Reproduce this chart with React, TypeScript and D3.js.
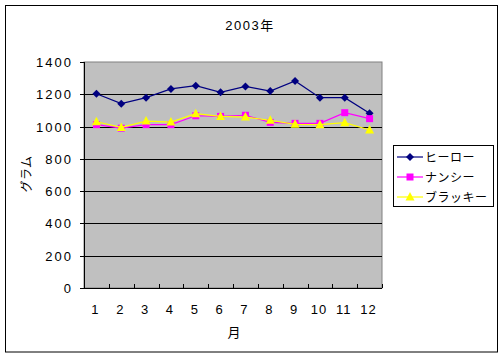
import React from "react";
import * as d3 from "d3";

const months = ["1", "2", "3", "4", "5", "6", "7", "8", "9", "10", "11", "12"];
const hero = [1203, 1142, 1179, 1233, 1253, 1212, 1249, 1220, 1282, 1179, 1179, 1082];
const nancy = [1012, 990, 1012, 1012, 1067, 1063, 1070, 1026, 1020, 1020, 1086, 1049];
const brakky = [1030, 995, 1034, 1028, 1080, 1063, 1059, 1039, 1014, 1012, 1024, 979];
const yTicks = [0, 200, 400, 600, 800, 1000, 1200, 1400];
const seriesNames = ["ヒーロー", "ナンシー", "ブラッキー"];
const title = "2003年";
const xTitle = "月";
const yTitle = "グラム";

const W = 503, H = 358;
const plot = { l: 84, r: 382, t: 62, b: 288 };
const font = "'Liberation Sans', 'Noto Sans CJK JP', sans-serif";

function Marker({ kind, x, y, color }: { kind: string; x: number; y: number; color: string }) {
  if (kind === "diamond") {
    return <path d={`M${x},${y - 4}L${x + 4},${y}L${x},${y + 4}L${x - 4},${y}Z`} fill={color} />;
  }
  if (kind === "square") {
    return <rect x={x - 3.5} y={y - 3.5} width={7} height={7} fill={color} />;
  }
  return <path d={`M${x},${y - 5}L${x + 4.5},${y + 3.5}L${x - 4.5},${y + 3.5}Z`} fill={color} />;
}

export default function App() {
  const x = d3.scaleBand().domain(months).range([plot.l, plot.r]);
  const y = d3.scaleLinear().domain([0, 1400]).range([plot.b, plot.t]);
  const cx = (m: string) => (x(m) as number) + x.bandwidth() / 2;
  const line = d3.line<number>().x((_, i) => cx(months[i])).y((v) => y(v));
  const series = [
    { name: seriesNames[0], data: hero, color: "#000080", kind: "diamond" },
    { name: seriesNames[1], data: nancy, color: "#FF00FF", kind: "square" },
    { name: seriesNames[2], data: brakky, color: "#FFFF00", kind: "triangle" },
  ];
  const boundaries = months.map((m) => x(m) as number).concat([plot.r]);
  return (
    <svg width={W} height={H} style={{ position: "absolute", left: 0, top: 0 }} fontFamily={font}>
      <rect x={0} y={0} width={W} height={H} fill="#fff" />
      <rect x={5.5} y={5.5} width={492} height={346.5} fill="#fff" stroke="#000" strokeWidth={1} />
      <text x={250} y={30} textAnchor="middle" fontSize={13} letterSpacing={1.5}>{title}</text>
      <rect x={plot.l} y={plot.t} width={plot.r - plot.l} height={plot.b - plot.t} fill="#C0C0C0" stroke="#808080" />
      {yTicks.slice(1, -1).map((t) => (
        <line key={t} x1={plot.l} x2={plot.r} y1={Math.round(y(t)) + 0.5} y2={Math.round(y(t)) + 0.5} stroke="#000" />
      ))}
      <line x1={plot.l + 0.5} x2={plot.l + 0.5} y1={plot.t} y2={plot.b} stroke="#000" />
      <line x1={plot.l} x2={plot.r} y1={plot.b + 0.5} y2={plot.b + 0.5} stroke="#000" />
      {yTicks.map((t) => (
        <line key={"yt" + t} x1={plot.l - 4} x2={plot.l} y1={Math.round(y(t)) + 0.5} y2={Math.round(y(t)) + 0.5} stroke="#000" />
      ))}
      {boundaries.map((b, i) => (
        <line key={"xt" + i} x1={Math.round(b) + 0.5} x2={Math.round(b) + 0.5} y1={plot.b} y2={plot.b - 4} stroke="#000" />
      ))}
      {yTicks.map((t) => (
        <text key={"yl" + t} x={73} y={y(t) + 5} textAnchor="end" fontSize={13} letterSpacing={2}>{t}</text>
      ))}
      {months.map((m) => (
        <text key={"xl" + m} x={cx(m) - 1} y={314} textAnchor="middle" fontSize={13} letterSpacing={1}>{m}</text>
      ))}
      <text x={234} y={337} textAnchor="middle" fontSize={13}>{xTitle}</text>
      <text transform={`translate(31,174) rotate(-90)`} textAnchor="middle" fontSize={12} letterSpacing={0.5}>{yTitle}</text>
      {series.map((s) => (
        <g key={s.name}>
          <path d={line(s.data) as string} fill="none" stroke={s.color} strokeWidth={1.2} />
          {s.data.map((v, i) => (
            <Marker key={i} kind={s.kind} x={cx(months[i])} y={y(v)} color={s.color} />
          ))}
        </g>
      ))}
      <rect x={393.5} y={145.5} width={100} height={61} fill="#fff" stroke="#000" />
      {series.map((s, i) => {
        const ly = 157 + i * 20;
        return (
          <g key={"lg" + s.name}>
            <line x1={397} x2={423} y1={ly} y2={ly} stroke={s.color} strokeWidth={1.2} />
            <Marker kind={s.kind} x={410} y={ly} color={s.color} />
            <text x={425} y={ly + 4.5} fontSize={12} letterSpacing={0.5}>{s.name}</text>
          </g>
        );
      })}
    </svg>
  );
}
